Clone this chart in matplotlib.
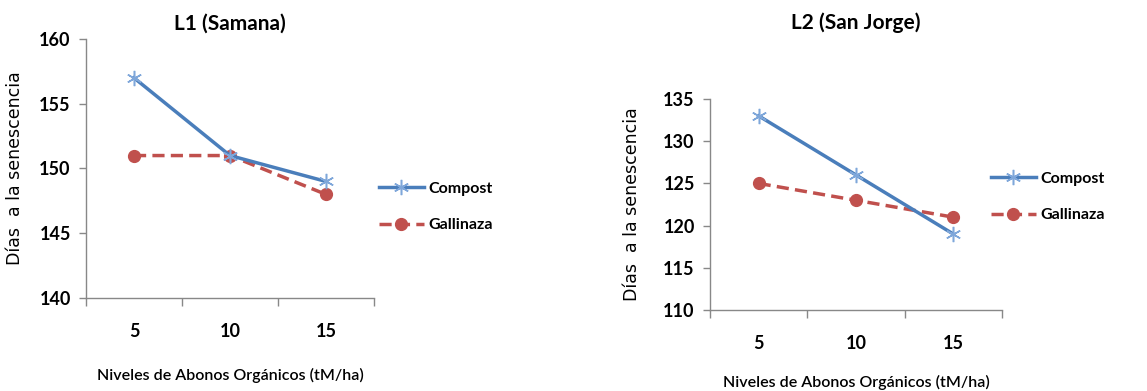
# Senescence days vs organic fertilizer level, two locations
import numpy as np
import matplotlib.pyplot as plt

# Data
niveles = ['5', '10', '15']
l1_compost = [157, 151, 149]
l1_gallinaza = [151, 151, 148]
l2_compost = [133, 126, 119]
l2_gallinaza = [125, 123, 121]

BLUE = '#4A7EBB'
BLUE_MK = '#7FA7DA'
RED = '#C0504D'
AXC = '#888888'
FONT = ['Lato', 'DejaVu Sans']

plt.rcParams['font.family'] = FONT

W, H = 1147, 391
fig = plt.figure(figsize=(W / 100, H / 100), dpi=100)


def px_axes(x0, y0, x1, y1):
    return fig.add_axes([x0 / W, 1 - y1 / H, (x1 - x0) / W, (y1 - y0) / H])


def draw(ax, comp, gall, ylim, title, title_y, xlab_y, ylab_x, leg_xy):
    x = np.arange(len(niveles))
    ax.plot(x, comp, color=BLUE, lw=2.5, marker=(6, 2, 0), ms=11,
            mec=BLUE_MK, mew=1.1, label='Compost', zorder=3)
    ax.plot(x, gall, color=RED, lw=2.5, ls=(0, (3.5, 1.8)), marker='o', ms=8.5,
            mfc=RED, mec=RED, label='Gallinaza', zorder=2)
    ax.set_xlim(-0.5, len(niveles) - 0.5)
    ax.set_ylim(*ylim)
    ax.set_yticks(np.arange(ylim[0], ylim[1] + 1, 5))
    ax.set_xticks(np.arange(-0.5, len(niveles), 1))
    ax.set_xticklabels([])
    ax.set_xticks(x, minor=True)
    ax.set_xticklabels(niveles, minor=True, fontsize=13, fontweight='bold')
    ax.tick_params(axis='x', which='major', direction='out', length=6,
                   color=AXC, width=1)
    ax.tick_params(axis='x', which='minor', length=0, pad=18)
    ax.tick_params(axis='y', direction='out', length=5, color=AXC, width=1,
                   labelsize=13, pad=6)
    for t in ax.get_yticklabels():
        t.set_fontweight('bold')
    for s in ['top', 'right']:
        ax.spines[s].set_visible(False)
    for s in ['left', 'bottom']:
        ax.spines[s].set_color(AXC)
        ax.spines[s].set_linewidth(1)

    bb = ax.get_position()
    cx = (bb.x0 + bb.x1) / 2
    fig.text(cx, 1 - title_y / H, title, ha='center', va='center',
             fontsize=15, fontweight='bold')
    fig.text(cx, 1 - xlab_y / H, 'Niveles de Abonos Orgánicos (tM/ha)',
             ha='center', va='center', fontsize=11.5, fontweight='semibold')
    fig.text(ylab_x / W, (bb.y0 + bb.y1) / 2, 'Días  a la senescencia',
             rotation=90, ha='center', va='center', fontsize=12.5,
             family=['DejaVu Sans'])
    leg = ax.legend(loc='center left', bbox_to_anchor=(leg_xy[0] / W, 1 - leg_xy[1] / H),
                    bbox_transform=fig.transFigure, frameon=False, fontsize=11.5,
                    handlelength=2.8, handletextpad=0.3, labelspacing=1.4,
                    borderaxespad=0, borderpad=0)
    for t in leg.get_texts():
        t.set_fontweight('bold')


ax1 = px_axes(86, 39, 374, 298)
draw(ax1, l1_compost, l1_gallinaza, (140, 160), 'L1 (Samana)',
     24, 375, 15, (379, 207))

ax2 = px_axes(710, 99, 1002, 310)
draw(ax2, l2_compost, l2_gallinaza, (110, 135), 'L2 (San Jorge)',
     23, 382, 632, (991, 197))

fig.savefig('out.png', dpi=100)
